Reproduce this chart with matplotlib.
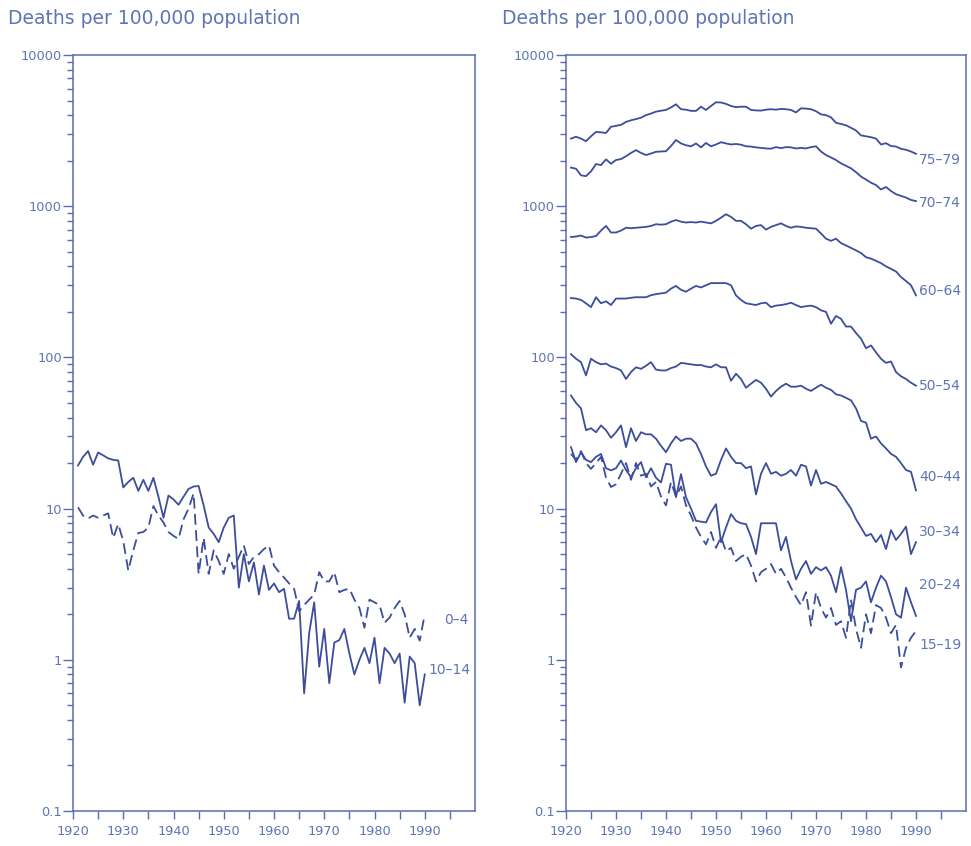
import matplotlib
matplotlib.use("Agg")
import matplotlib.pyplot as plt
import numpy as np

# annual death rates per 100,000, 1921-1990
years = np.arange(1921, 1991)

# left panel
rate_0_4 = [
    10.2, 9.0, 8.6, 9.0, 8.7, 9.0, 9.3, 6.4, 7.9, 6.1,
    3.9, 5.3, 6.9, 7.0, 7.5, 10.4, 9.0, 8.1, 7.0, 6.6,
    6.3, 8.5, 10.0, 12.6, 3.7, 6.4, 3.7, 5.3, 4.5, 3.7,
    5.0, 4.0, 4.8, 5.7, 4.3, 4.8, 5.0, 5.4, 5.7, 4.2,
    3.8, 3.5, 3.2, 2.95, 2.1, 2.3, 2.5, 2.7, 3.8, 3.3,
    3.3, 3.8, 2.8, 2.9, 2.95, 2.5, 2.2, 1.63, 2.5, 2.4,
    2.3, 1.76, 1.9, 2.2, 2.45, 2.0, 1.4, 1.6, 1.34, 2.0,
]
rate_10_14 = [
    19.3, 22, 24, 19.5, 23.5, 22.5, 21.5, 21, 20.8, 13.8,
    15, 16, 13.1, 15.5, 13.1, 16, 12, 8.7, 12.2, 11.5,
    10.6, 12, 13.5, 14, 14.1, 10.5, 7.5, 6.8, 6.0, 7.5,
    8.7, 9.0, 3.0, 5.0, 3.3, 4.4, 2.7, 4.2, 2.9, 3.2,
    2.8, 2.95, 1.87, 1.87, 2.45, 0.6, 1.5, 2.4, 0.9, 1.6,
    0.7, 1.3, 1.35, 1.6, 1.1, 0.8, 1.0, 1.2, 0.95, 1.4,
    0.7, 1.2, 1.1, 0.95, 1.1, 0.52, 1.05, 0.95, 0.5, 0.8,
]

# right panel
rate_15_19 = [
    23, 21, 24, 20, 18.3, 20, 22, 16, 13.9, 14.5,
    17, 20, 15.5, 20, 16.5, 17, 14, 15, 12, 10.5,
    15, 12, 14, 10.5, 9, 7.5, 6.5, 5.8, 7.0, 5.5,
    6.5, 5.2, 5.5, 4.5, 4.8, 5.0, 4.2, 3.3, 3.8, 4.0,
    4.3, 3.7, 4.0, 3.5, 3.0, 2.6, 2.3, 2.8, 1.68, 2.8,
    2.2, 1.9, 2.2, 1.7, 1.8, 1.4, 2.5, 1.6, 1.2, 2.0,
    1.5, 2.3, 2.2, 1.9, 1.5, 1.7, 0.89, 1.2, 1.4, 1.55,
]
rate_20_24 = [
    25.5, 20.3, 23.6, 21, 20.3, 22, 23, 18.5, 17.9, 18.5,
    20.8, 18, 16.1, 18.5, 20.3, 16.1, 18.5, 16, 14.9, 19.8,
    19.5, 11.9, 16.9, 11.9, 10, 8.3, 8.2, 8.1, 9.5, 10.7,
    6.0, 7.5, 9.2, 8.3, 8.0, 7.9, 6.5, 5.0, 8.0, 8.0,
    8.0, 8.0, 5.3, 6.5, 4.5, 3.4, 4.0, 4.5, 3.7, 4.1,
    3.9, 4.1, 3.6, 2.8, 4.1, 2.9, 1.8, 2.9, 3.0, 3.3,
    2.4, 3.0, 3.6, 3.3, 2.6, 2.0, 1.9, 3.0, 2.4, 1.95,
]
rate_30_34 = [
    56, 50, 46, 33, 34, 32, 35.5, 33, 29.4, 32,
    35.5, 25.5, 34, 28, 32, 31, 31, 29, 26, 23.6,
    27, 30, 28, 29, 29, 27, 23, 19, 16.5, 17,
    21, 25, 22, 20, 20, 18.5, 19, 12.4, 17, 20,
    17, 17.5, 16.5, 17, 18, 16.5, 19.5, 19, 14.2, 18,
    14.6, 15, 14.5, 14, 12.6, 11.2, 10, 8.5, 7.5, 6.6,
    6.8, 6.0, 6.7, 5.4, 7.2, 6.2, 6.8, 7.6, 5.0, 6.0,
]
rate_40_44 = [
    105, 98, 93, 76, 98, 93, 90, 91, 87, 85,
    82, 72, 80, 86, 84, 88, 93, 83, 82, 82,
    85, 87, 92, 91, 90, 89, 89, 87, 86, 90,
    86, 86, 70, 78, 72, 63, 67, 71, 68, 62,
    55, 60, 64, 67, 64, 64, 65, 62, 60, 63,
    66, 63, 61, 57, 56, 54, 52, 46, 38, 37,
    29, 30, 27, 25, 23, 22, 20, 18, 17.5, 13.2,
]
rate_50_54 = [
    247, 245, 240, 228, 215, 250, 228, 235, 222, 245,
    245, 245, 248, 250, 250, 250, 258, 262, 265, 268,
    285, 297, 280, 272, 285, 297, 290, 300, 310, 310,
    310, 310, 300, 257, 240, 228, 225, 222, 228, 230,
    215, 220, 222, 225, 230, 222, 215, 218, 220, 215,
    205, 200, 167, 188, 180, 160, 160, 145, 133, 115,
    120, 108, 98, 92, 94, 80, 75, 72, 68, 65,
]
rate_60_64 = [
    626, 630, 640, 620, 625, 635, 690, 741, 670, 670,
    690, 720, 715, 720, 725, 730, 740, 760, 755, 760,
    790, 810, 790, 780, 785, 780, 790, 780, 770, 800,
    840, 885, 850, 800, 800, 760, 710, 740, 750, 700,
    730, 750, 770, 740, 720, 735, 730, 720, 715, 710,
    660, 610, 590, 610, 570, 550, 530, 510, 490, 460,
    450, 435, 420, 400, 385, 370, 340, 320, 300, 257,
]
rate_70_74 = [
    1800, 1770, 1600, 1580, 1700, 1900, 1870, 2040, 1910, 2020,
    2050, 2140, 2250, 2350, 2250, 2180, 2230, 2290, 2300, 2310,
    2500, 2740, 2600, 2530, 2490, 2600, 2450, 2620, 2490, 2560,
    2650, 2600, 2560, 2580, 2550, 2490, 2480, 2450, 2430, 2410,
    2400, 2460, 2420, 2460, 2450, 2410, 2430, 2410, 2460, 2490,
    2300, 2180, 2100, 2020, 1920, 1850, 1780, 1680, 1570, 1500,
    1430, 1380, 1290, 1340, 1260, 1200, 1170, 1140, 1100, 1080,
]
rate_75_79 = [
    2800, 2880, 2800, 2690, 2900, 3100, 3080, 3050, 3350, 3400,
    3450, 3610, 3700, 3770, 3850, 4000, 4100, 4220, 4280, 4330,
    4500, 4720, 4380, 4350, 4270, 4270, 4550, 4330, 4600, 4870,
    4850, 4750, 4600, 4520, 4550, 4550, 4330, 4300, 4290, 4350,
    4380, 4350, 4400, 4380, 4330, 4170, 4440, 4420, 4380, 4250,
    4050, 4000, 3870, 3560, 3500, 3430, 3300, 3170, 2940, 2900,
    2860, 2800, 2560, 2610, 2500, 2480, 2400, 2360, 2300, 2220,
]

left_series = [("0\u20134", rate_0_4, True), ("10\u201314", rate_10_14, False)]
right_series = [
    ("75\u201379", rate_75_79, False), ("70\u201374", rate_70_74, False),
    ("60\u201364", rate_60_64, False), ("50\u201354", rate_50_54, False),
    ("40\u201344", rate_40_44, False), ("30\u201334", rate_30_34, False),
    ("20\u201324", rate_20_24, False), ("15\u201319", rate_15_19, True),
]
y_ticks = [0.1, 1, 10, 100, 1000, 10000]
y_ticklabels = ["0.1", "1", "10", "100", "1000", "10000"]
x_ticklabels = [1920, 1930, 1940, 1950, 1960, 1970, 1980, 1990]

LINE = "#3c4e9b"
TEXT = "#5f75b4"
SPINE = "#5a6cae"

# label offsets in pixels from the last point (dx right, dy up)
left_offsets = {"0\u20134": (19, -6), "10\u201314": (4, 4)}
right_offsets = {
    "75\u201379": (3, -6), "70\u201374": (3, -2), "60\u201364": (3, 4),
    "50\u201354": (3, 0), "40\u201344": (3, 13), "30\u201334": (3, 10),
    "20\u201324": (3, 31), "15\u201319": (3, -14),
}

fig = plt.figure(figsize=(9.71, 8.46), dpi=100)
ax_l = fig.add_axes([73 / 971, 1 - 811 / 846, 402 / 971, 756 / 846])
ax_r = fig.add_axes([566 / 971, 1 - 811 / 846, 400 / 971, 756 / 846])


def style_axes(ax):
    ax.set_yscale("log")
    ax.set_ylim(0.1, 10000)
    ax.set_xlim(1920, 2000)
    ax.set_yticks(y_ticks)
    ax.set_yticklabels(y_ticklabels)
    ticks = np.arange(1920, 2000, 5)
    ax.set_xticks(ticks)
    ax.set_xticklabels([str(t) if t in x_ticklabels else "" for t in ticks])
    ax.tick_params(axis="both", which="both", direction="out", colors=SPINE,
                   labelcolor=TEXT, labelsize=9.3, width=1.0)
    ax.tick_params(axis="y", which="major", length=7, pad=1)
    ax.tick_params(axis="y", which="minor", length=4)
    ax.tick_params(axis="x", which="major", length=6, pad=4)
    for s in ax.spines.values():
        s.set_color(SPINE)
        s.set_linewidth(1.1)


def draw(ax, series, offsets):
    for label, vals, dashed in series:
        ls = (0, (6, 3)) if dashed else "-"
        ax.plot(years, vals, color=LINE, lw=1.3, ls=ls)
        dx, dy = offsets[label]
        ax.annotate(label, xy=(years[-1], vals[-1]), xytext=(dx, dy),
                    textcoords="offset pixels", ha="left", va="center",
                    fontsize=10, color=TEXT)


for ax in (ax_l, ax_r):
    style_axes(ax)
draw(ax_l, left_series, left_offsets)
draw(ax_r, right_series, right_offsets)

for x0 in (8, 502):
    fig.text(x0 / 971, 1 - 18 / 846, "Deaths per 100,000 population",
             fontsize=13.5, color=TEXT, ha="left", va="center")

fig.savefig("out.png", dpi=100)
